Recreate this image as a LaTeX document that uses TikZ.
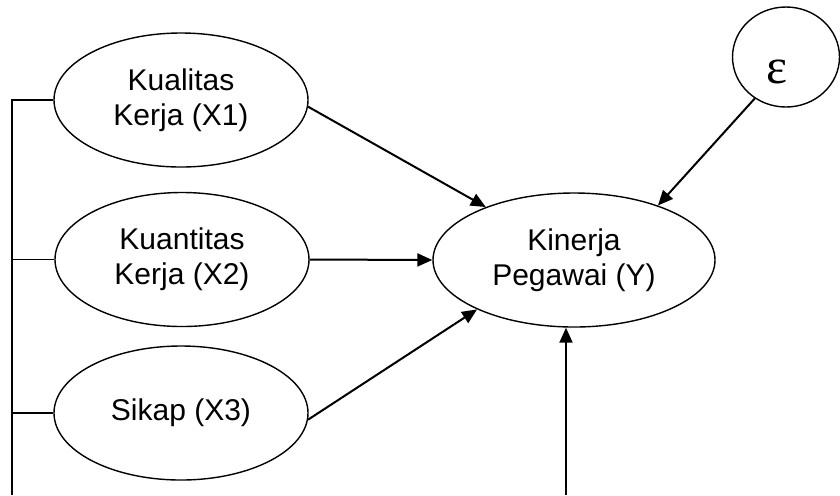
\documentclass[tikz,border=0pt]{standalone}
\usepackage{fontspec}
\setmainfont{Liberation Sans}
\newfontfamily\epsfont{Liberation Serif}
\usetikzlibrary{arrows.meta, shapes.geometric}

\begin{document}
\begin{tikzpicture}[x=0.5pt, y=-0.5pt,
        var/.style={ellipse, draw, line width=0.7pt, inner sep=0pt, align=center,
            minimum width=127pt, minimum height=67pt,
            font=\fontsize{15}{17.5}\selectfont},
        arr/.style={line width=1pt, -{Triangle[length=7.5pt, width=6.5pt]}}]
        \useasboundingbox (0,0) rectangle (840,495);

        % Define variables
        \node[var] (x1) at (181, 100) {Kualitas\\Kerja (X1)};
        \node[var] (x2) at (182, 259.5) {Kuantitas\\Kerja (X2)};
        \node[var] (x3) at (181, 413) {Sikap (X3)};
        \node[var, minimum width=141pt] (y) at (574, 260) {Kinerja\\Pegawai (Y)};
        \node[var, minimum width=53.5pt, minimum height=50pt,
            font=\epsfont\fontsize{25}{25}\selectfont] (eps) at (786, 57)
            {\raisebox{-13pt}[0pt][0pt]{\makebox[0pt]{ε\hspace*{9pt}}}};

        % Left bracket
        \coordinate (lb) at (12, 495);
        \draw[line width=0.8pt] (lb) |- (x1.west);
        \draw[line width=0.8pt] (x2.west) -- (x2.west -| lb);
        \draw[line width=0.8pt] (x3.west) -- (x3.west -| lb);

        % Draw paths
        \draw[arr] (x1.-3) -- (y.149);
        \draw[arr] (x2.east) -- (y.west);
        \draw[arr] (x3.-3) -- (y.207);
        \draw[arr] (eps.233) -- (y.33);
        \coordinate (ybot) at (566, 495);
        \draw[arr] (ybot) -- (ybot |- y.south);
    \end{tikzpicture}
\end{document}
